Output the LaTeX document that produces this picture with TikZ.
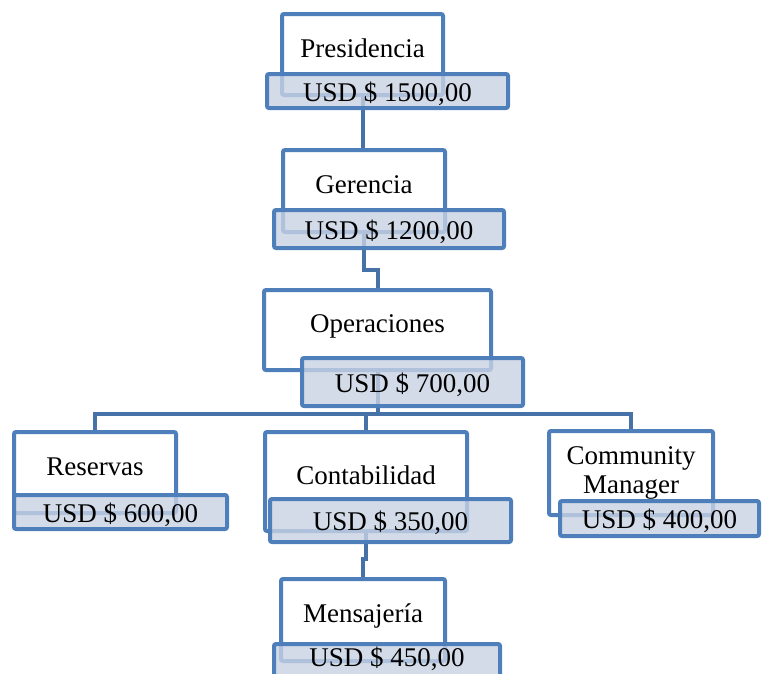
\documentclass[tikz,border=0pt]{standalone}
\usepackage{fontspec}
\setmainfont{Liberation Serif}
\usepackage{xcolor}
\usepackage{tikz}
\usetikzlibrary{calc}

\definecolor{boxblue}{HTML}{4F7FBB}
\definecolor{lineblue}{HTML}{4672A8}
\definecolor{usdfill}{HTML}{C8D2E3}

\begin{document}
\begin{tikzpicture}[
  x=1pt, y=1pt,
  box/.style={draw=boxblue, line width=4pt, fill=white, rounded corners=2pt, inner sep=2pt,
    font=\fontsize{27}{29}\selectfont, text height=10pt, text depth=5pt, align=center,
    minimum width=#1},
  usd/.style={draw=boxblue, line width=4pt, fill=usdfill, fill opacity=0.8, text opacity=1,
    rounded corners=2pt, inner sep=2pt, font=\fontsize{27}{29}\selectfont,
    text height=20pt, text depth=0pt, minimum width=#1},
  conn/.style={draw=lineblue, line width=4pt},
]
  \clip (0,0) rectangle (762,-673);

  % Boxes
  \node[box=161pt, minimum height=81pt] (pres) at (362.5,-54.5) {Presidencia};
  \node[box=162pt, minimum height=82pt] (ger)  at (364,-191)    {Gerencia};
  \node[box=227pt, minimum height=80pt] (ops)  at (377.5,-330)  {Operaciones};
  \node[box=162pt, minimum height=81pt] (res)  at (95,-472.5)   {Reservas};
  \node[box=202pt, minimum height=99pt] (cont) at (366,-481.5)  {Contabilidad};
  \node[box=164pt, minimum height=84pt, text height=43pt, text depth=3pt] (cm) at (631,-473) {Community\\Manager};
  \node[box=164pt, minimum height=82pt] (mens) at (363,-620)    {Mensajería};

  % Connectors
  \draw[conn] (pres.south) -- (pres.south |- ger.north);
  \draw[conn] (ger.south) -- ++(0,-36) -| (ops.north);
  \draw[conn] (ops.south) -- ++(0,-42) -| (res.north);
  \draw[conn] (ops.south) -- ++(0,-42) -| (cont.north);
  \draw[conn] (ops.south) -- ++(0,-42) -| (cm.north);
  \draw[conn] (cont.south) -- ++(0,-26) -| (mens.north);

  % Salaries
  \node[usd=241pt, minimum height=34pt] (presusd) at (387.5,-91)  {USD \$ 1500,00};
  \node[usd=230pt, minimum height=38pt] (gerusd)  at (389,-229)   {USD \$ 1200,00};
  \node[usd=221pt, minimum height=48pt] (opsusd)  at (412.5,-382) {USD \$ 700,00};
  \node[usd=213pt, minimum height=34pt] (resusd)  at (120.5,-512) {USD \$ 600,00};
  \node[usd=241pt, minimum height=43pt] (contusd) at (390.5,-520.5) {USD \$ 350,00};
  \node[usd=199pt, minimum height=35pt] (cmusd)   at (659.5,-518.5) {USD \$ 400,00};
  \node[usd=226pt, minimum height=34pt, text height=11pt] (mensusd) at (387,-661) {USD \$ 450,00};
\end{tikzpicture}
\end{document}
